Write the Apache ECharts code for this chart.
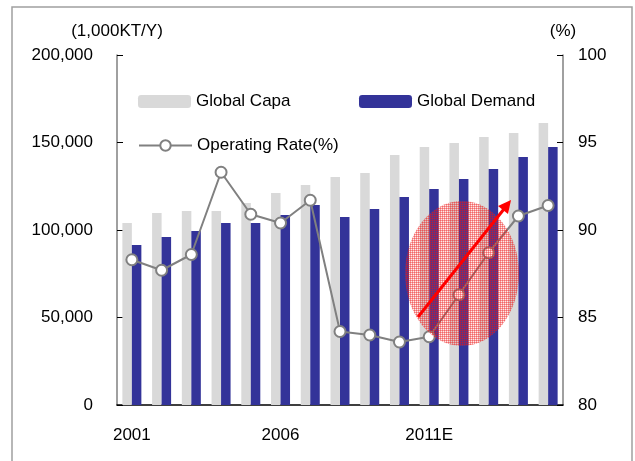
<!DOCTYPE html>
<html>
<head>
<meta charset="utf-8">
<script src="https://cdn.jsdelivr.net/npm/echarts@6/dist/echarts.min.js"></script>
<style>
html, body { margin: 0; padding: 0; background: #fff; }
#main { width: 635px; height: 461px; }
</style>
</head>
<body>
<div id="main"></div>
<script>
// years on the x axis (labels only shown every 5th)
var years = ['2001', '2002', '2003', '2004', '2005', '2006', '2007', '2008', '2009', '2010',
             '2011E', '2012E', '2013E', '2014E', '2015E'];
// capacity / demand, 1,000KT/Y
var globalCapa = [104000, 109700, 110900, 110900, 115400, 121100, 125700, 130300, 132600, 142900,
                  147400, 149700, 153100, 155400, 161100];
var globalDemand = [91400, 96000, 99400, 104000, 104000, 108600, 114300, 107400, 112000, 118900,
                    123400, 129100, 134900, 141700, 147400];
// operating rate, %
var operatingRate = [88.3, 87.7, 88.6, 93.3, 90.9, 90.4, 91.7, 84.2, 84.0, 83.6,
                     83.9, 86.3, 88.7, 90.8, 91.4];

var font = 'Liberation Sans, Arial, sans-serif';

// small red grid texture for the highlight ellipse
var tile = document.createElement('canvas');
tile.width = 2; tile.height = 2;
var tc = tile.getContext('2d');
tc.fillStyle = 'rgba(255,80,80,0.12)';
tc.fillRect(0, 0, 2, 2);
tc.fillStyle = 'rgba(235,20,20,0.38)';
tc.fillRect(0, 0, 2, 1);
tc.fillRect(0, 0, 1, 2);

var myChart = echarts.init(document.getElementById('main'));
var option = {
    backgroundColor: '#fff',
    animation: false,
    textStyle: { fontFamily: font },
    grid: { left: 117, right: 72, top: 55, bottom: 56 },
    legend: [
        {
            data: ['Global Capa'], left: 138, top: 93, padding: 0,
            itemWidth: 53, itemHeight: 13,
            textStyle: { fontSize: 17, color: '#000', fontFamily: font }
        },
        {
            data: ['Global Demand'], left: 359, top: 93, padding: 0,
            itemWidth: 53, itemHeight: 13,
            textStyle: { fontSize: 17, color: '#000', fontFamily: font }
        },
        {
            data: ['Operating Rate(%)'], left: 138, top: 137, padding: 0,
            itemWidth: 53, itemHeight: 13,
            textStyle: { fontSize: 17, color: '#000', fontFamily: font }
        }
    ],
    xAxis: {
        type: 'category',
        data: years,
        axisLine: { lineStyle: { color: '#000', width: 1.5 } },
        axisTick: { inside: true, interval: 4, length: 5, lineStyle: { color: '#808080' } },
        axisLabel: { interval: 4, margin: 22, fontSize: 17, color: '#000', fontFamily: font }
    },
    yAxis: [
        {
            type: 'value', min: 0, max: 200000, interval: 50000,
            name: '(1,000KT/Y)', nameLocation: 'end', nameGap: 15,
            nameTextStyle: { fontSize: 17, color: '#000', fontFamily: font },
            splitLine: { show: false },
            axisLine: { show: true, lineStyle: { color: '#808080', width: 1.5 } },
            axisTick: { show: true, inside: true, length: 6, lineStyle: { color: '#000' } },
            axisLabel: {
                margin: 24, fontSize: 17, color: '#000', fontFamily: font,
                formatter: function (v) { return v.toLocaleString('en-US'); }
            }
        },
        {
            type: 'value', min: 80, max: 100, interval: 5,
            name: '(%)', nameLocation: 'end', nameGap: 15,
            nameTextStyle: { fontSize: 17, color: '#000', fontFamily: font },
            splitLine: { show: false },
            axisLine: { show: true, lineStyle: { color: '#808080', width: 1.5 } },
            axisTick: { show: true, inside: true, length: 6, lineStyle: { color: '#000' } },
            axisLabel: { margin: 15, fontSize: 17, color: '#000', fontFamily: font }
        }
    ],
    series: [
        {
            name: 'Global Capa', type: 'bar', data: globalCapa,
            barWidth: 9.5, barGap: '0%',
            itemStyle: { color: '#D9D9D9' }
        },
        {
            name: 'Global Demand', type: 'bar', data: globalDemand,
            barWidth: 9.5,
            itemStyle: { color: '#333399' }
        },
        {
            name: 'Operating Rate(%)', type: 'line', yAxisIndex: 1, data: operatingRate,
            symbol: 'circle', symbolSize: 11, z: 5,
            lineStyle: { color: '#808080', width: 2 },
            itemStyle: { color: '#fff', borderColor: '#808080', borderWidth: 2 }
        }
    ],
    graphic: [
        {
            type: 'rect', z: 0, silent: true,
            shape: { x: 12, y: 7, width: 620, height: 470 },
            style: { fill: 'none', stroke: '#a0a0a0', lineWidth: 1.5 }
        },
        {
            type: 'ellipse', z: 100, silent: true,
            shape: { cx: 462, cy: 273.5, rx: 57, ry: 72.5 },
            style: { fill: { image: tile, repeat: 'repeat' } }
        },
        {
            type: 'line', z: 101, silent: true,
            shape: { x1: 418, y1: 317, x2: 504, y2: 209 },
            style: { stroke: '#ff0000', lineWidth: 3 }
        },
        {
            type: 'polygon', z: 101, silent: true,
            shape: { points: [[511, 200], [508, 214], [498, 206]] },
            style: { fill: '#ff0000' }
        }
    ]
};
myChart.setOption(option);
</script>
</body>
</html>
